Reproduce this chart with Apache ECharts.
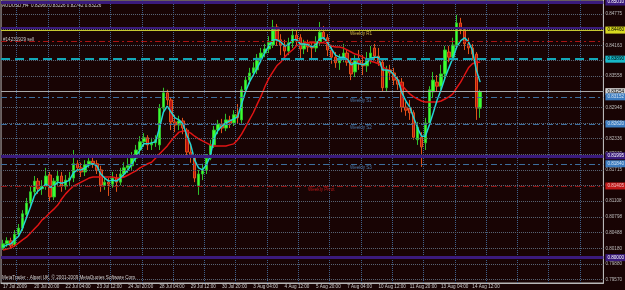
<!DOCTYPE html>
<html>
<head>
<meta charset="utf-8">
<script src="https://cdn.jsdelivr.net/npm/echarts@6/dist/echarts.min.js"></script>
<style>
    html, body { margin: 0; padding: 0; background: #180404; }
    #chart { width: 625px; height: 290px; }
</style>
</head>
<body>
<div id="chart"></div>
<script>
    // AUDUSD H4 bars
    const xLabels = ['17 Jul 2009', '20 Jul 20:00', '22 Jul 04:00', '23 Jul 12:00', '24 Jul 20:00', '28 Jul 04:00',
        '29 Jul 12:00', '30 Jul 20:00', '3 Aug 04:00', '4 Aug 12:00', '5 Aug 20:00', '7 Aug 04:00',
        '10 Aug 12:00', '11 Aug 20:00', '13 Aug 04:00', '14 Aug 12:00'];

    const opens = [
        0.8019,0.8027,0.8033,0.8025,0.8046,0.8058,0.8084,0.8107,0.8129,0.8150,
        0.8135,0.8140,0.8162,0.8119,0.8150,0.8160,0.8140,0.8152,0.8156,0.8184,
        0.8176,0.8168,0.8182,0.8189,0.8184,0.8172,0.8142,0.8148,0.8144,0.8156,
        0.8148,0.8164,0.8176,0.8180,0.8195,0.8211,0.8227,0.8235,0.8221,0.8225,
        0.8221,0.8293,0.8323,0.8309,0.8266,0.8260,0.8268,0.8250,0.8207,0.8197,
        0.8140,0.8164,0.8172,0.8195,0.8221,0.8250,0.8262,0.8254,0.8270,0.8264,
        0.8280,0.8270,0.8329,0.8348,0.8362,0.8368,0.8391,0.8401,0.8409,0.8417,
        0.8452,0.8427,0.8417,0.8405,0.8421,0.8436,0.8431,0.8409,0.8419,0.8413,
        0.8411,0.8423,0.8442,0.8431,0.8407,0.8393,0.8382,0.8391,0.8401,0.8383,
        0.8364,0.8387,0.8380,0.8376,0.8387,0.8411,0.8395,0.8383,0.8333,0.8368,
        0.8362,0.8348,0.8344,0.8295,0.8293,0.8284,0.8231,0.8236,0.8225,0.8264,
        0.8325,0.8344,0.8336,0.8360,0.8403,0.8393,0.8417,0.8460,0.8446,0.8419,
        0.8411,0.8399,0.8293];
    const closes = [
        0.8027,0.8033,0.8023,0.8046,0.8058,0.8086,0.8107,0.8129,0.8150,0.8135,
        0.8140,0.8160,0.8119,0.8150,0.8160,0.8140,0.8152,0.8156,0.8184,0.8176,
        0.8168,0.8182,0.8189,0.8184,0.8172,0.8142,0.8148,0.8144,0.8156,0.8148,
        0.8164,0.8176,0.8180,0.8195,0.8211,0.8227,0.8235,0.8221,0.8225,0.8231,
        0.8293,0.8323,0.8309,0.8266,0.8260,0.8268,0.8254,0.8207,0.8197,0.8156,
        0.8164,0.8172,0.8195,0.8221,0.8250,0.8262,0.8254,0.8270,0.8264,0.8280,
        0.8274,0.8329,0.8348,0.8362,0.8372,0.8391,0.8401,0.8409,0.8421,0.8452,
        0.8427,0.8417,0.8405,0.8421,0.8436,0.8427,0.8409,0.8419,0.8413,0.8411,
        0.8423,0.8442,0.8432,0.8407,0.8393,0.8382,0.8391,0.8401,0.8383,0.8360,
        0.8387,0.8380,0.8376,0.8387,0.8401,0.8395,0.8383,0.8333,0.8368,0.8362,
        0.8348,0.8340,0.8295,0.8289,0.8284,0.8236,0.8256,0.8217,0.8264,0.8329,
        0.8348,0.8336,0.8360,0.8407,0.8393,0.8417,0.8460,0.8450,0.8419,0.8411,
        0.8399,0.8293,0.8325];
    const lows = [
        0.8015,0.8021,0.8017,0.8021,0.8042,0.8052,0.8078,0.8101,0.8123,0.8125,
        0.8123,0.8133,0.8109,0.8113,0.8142,0.8129,0.8133,0.8140,0.8148,0.8168,
        0.8158,0.8160,0.8176,0.8176,0.8164,0.8129,0.8133,0.8121,0.8137,0.8129,
        0.8142,0.8156,0.8166,0.8172,0.8187,0.8201,0.8217,0.8211,0.8211,0.8217,
        0.8211,0.8285,0.8299,0.8250,0.8246,0.8250,0.8242,0.8195,0.8186,0.8148,
        0.8123,0.8152,0.8164,0.8191,0.8215,0.8242,0.8244,0.8248,0.8254,0.8258,
        0.8262,0.8264,0.8323,0.8340,0.8356,0.8360,0.8383,0.8393,0.8401,0.8411,
        0.8415,0.8397,0.8391,0.8397,0.8411,0.8415,0.8391,0.8399,0.8403,0.8391,
        0.8403,0.8417,0.8427,0.8395,0.8380,0.8372,0.8368,0.8383,0.8376,0.8348,
        0.8354,0.8368,0.8358,0.8364,0.8380,0.8387,0.8376,0.8325,0.8325,0.8348,
        0.8338,0.8329,0.8285,0.8278,0.8270,0.8231,0.8221,0.8178,0.8211,0.8258,
        0.8313,0.8325,0.8329,0.8352,0.8383,0.8387,0.8411,0.8438,0.8407,0.8399,
        0.8387,0.8270,0.8274];
    const highs = [
        0.8035,0.8040,0.8039,0.8054,0.8066,0.8093,0.8117,0.8140,0.8160,0.8156,
        0.8152,0.8176,0.8168,0.8156,0.8172,0.8168,0.8162,0.8168,0.8211,0.8191,
        0.8186,0.8191,0.8201,0.8197,0.8191,0.8180,0.8158,0.8156,0.8168,0.8164,
        0.8176,0.8187,0.8195,0.8207,0.8221,0.8238,0.8244,0.8240,0.8235,0.8240,
        0.8301,0.8333,0.8329,0.8313,0.8280,0.8278,0.8274,0.8254,0.8221,0.8201,
        0.8172,0.8184,0.8203,0.8231,0.8258,0.8270,0.8272,0.8282,0.8278,0.8289,
        0.8301,0.8336,0.8356,0.8372,0.8383,0.8399,0.8411,0.8419,0.8434,0.8466,
        0.8458,0.8438,0.8427,0.8431,0.8450,0.8446,0.8438,0.8427,0.8427,0.8421,
        0.8434,0.8462,0.8454,0.8438,0.8417,0.8403,0.8399,0.8419,0.8407,0.8391,
        0.8397,0.8407,0.8397,0.8403,0.8415,0.8419,0.8411,0.8391,0.8376,0.8378,
        0.8372,0.8356,0.8352,0.8305,0.8309,0.8289,0.8266,0.8246,0.8274,0.8336,
        0.8364,0.8358,0.8378,0.8415,0.8415,0.8431,0.8476,0.8470,0.8452,0.8431,
        0.8419,0.8403,0.8329];

    // moving averages as drawn (cyan fast, red slow)
    const maFast = [
        0.8021,0.8025,0.8027,0.8035,0.8042,0.8058,0.8078,0.8099,0.8121,0.8131,
        0.8137,0.8144,0.8138,0.8140,0.8148,0.8146,0.8148,0.8152,0.8166,0.8172,
        0.8172,0.8176,0.8182,0.8184,0.8180,0.8164,0.8156,0.8150,0.8152,0.8150,
        0.8156,0.8164,0.8172,0.8184,0.8197,0.8211,0.8223,0.8223,0.8225,0.8227,
        0.8254,0.8285,0.8297,0.8285,0.8274,0.8270,0.8262,0.8240,0.8221,0.8191,
        0.8176,0.8172,0.8182,0.8199,0.8235,0.8250,0.8258,0.8264,0.8268,0.8272,
        0.8276,0.8301,0.8325,0.8344,0.8358,0.8372,0.8387,0.8403,0.8415,0.8427,
        0.8427,0.8423,0.8415,0.8417,0.8427,0.8427,0.8419,0.8419,0.8417,0.8413,
        0.8417,0.8429,0.8431,0.8421,0.8409,0.8397,0.8393,0.8393,0.8389,0.8378,
        0.8382,0.8380,0.8378,0.8382,0.8391,0.8393,0.8393,0.8368,0.8368,0.8366,
        0.8358,0.8348,0.8323,0.8307,0.8295,0.8274,0.8254,0.8238,0.8238,0.8260,
        0.8284,0.8309,0.8329,0.8352,0.8372,0.8391,0.8413,0.8425,0.8431,0.8423,
        0.8407,0.8368,0.8344];
    const maSlow = [
        0.8015,0.8017,0.8019,0.8023,0.8029,0.8035,0.8040,0.8048,0.8056,0.8064,
        0.8074,0.8080,0.8088,0.8095,0.8103,0.8115,0.8125,0.8133,0.8140,0.8144,
        0.8148,0.8152,0.8156,0.8158,0.8158,0.8158,0.8158,0.8158,0.8158,0.8156,
        0.8156,0.8158,0.8162,0.8166,0.8170,0.8176,0.8180,0.8184,0.8187,0.8195,
        0.8203,0.8211,0.8219,0.8229,0.8238,0.8246,0.8248,0.8248,0.8244,0.8238,
        0.8233,0.8229,0.8225,0.8221,0.8219,0.8219,0.8219,0.8219,0.8221,0.8223,
        0.8231,0.8242,0.8256,0.8270,0.8284,0.8301,0.8317,0.8336,0.8352,0.8364,
        0.8376,0.8383,0.8393,0.8401,0.8407,0.8415,0.8419,0.8421,0.8421,0.8421,
        0.8421,0.8421,0.8421,0.8419,0.8415,0.8413,0.8413,0.8411,0.8407,0.8403,
        0.8399,0.8397,0.8393,0.8389,0.8385,0.8383,0.8380,0.8374,0.8370,0.8366,
        0.8358,0.8348,0.8338,0.8329,0.8321,0.8315,0.8311,0.8307,0.8305,0.8305,
        0.8305,0.8305,0.8307,0.8311,0.8315,0.8321,0.8333,0.8344,0.8358,0.8372,
        0.8380,0.8383,0.8383];

    // price axis labels
    const yTicks = [0.84775, 0.84469, 0.84163, 0.83863, 0.83558, 0.83254, 0.82948, 0.82642, 0.82336,
        0.82030, 0.81715, 0.81410, 0.81108, 0.80798, 0.80488, 0.80180, 0.79880, 0.79570];

    // horizontal levels (pivots, order, bid)
    const levelValues = [0.85010, 0.84500, 0.84460, 0.84250, 0.83890, 0.83254, 0.83152, 0.82620, 0.81995, 0.81840, 0.81405, 0.80000];
    const levelNames = ['', '', 'Weekly R1', '#14231929 sell', '', '', 'Weekly S1', 'Weekly S2', '', 'Weekly S3', 'Weekly Pivot', ''];

    const PURPLE = '#3a1a7c', BLUE = '#3d6f9e', RED = '#a81414';
    const levelStyle = [
        {color: PURPLE, width: 3, type: 'solid', box: PURPLE, boxText: '#ffffff', tx: 0},
        {color: PURPLE, width: 2, type: 'solid', box: null, tx: 0},
        {color: '#c8c832', width: 1, type: 'solid', box: '#d8d820', boxText: '#000000', tx: 350, text: '#c8b448'},
        {color: RED, width: 1, type: [6, 3, 2, 3], box: null, tx: 3, text: '#c8c8c8', above: true},
        {color: '#12a8b8', width: 2, type: [9, 5], box: '#18b8c8', boxText: '#000000', tx: 0},
        {color: '#a8a8a8', width: 1, type: 'solid', box: '#d0d0d0', boxText: '#000000', tx: 0},
        {color: BLUE, width: 1, type: [6, 3, 2, 3], box: '#3c7cc0', boxText: '#d0e0f0', tx: 350, text: '#4a78a8'},
        {color: BLUE, width: 1, type: [6, 3, 2, 3], box: '#3c7cc0', boxText: '#d0e0f0', tx: 350, text: '#4a78a8'},
        {color: PURPLE, width: 3, type: 'solid', box: PURPLE, boxText: '#ffffff', tx: 0},
        {color: BLUE, width: 1, type: [6, 3, 2, 3], box: '#3c7cc0', boxText: '#d0e0f0', tx: 350, text: '#4a78a8'},
        {color: '#8c1212', width: 1, type: [6, 3, 2, 3], box: '#c01818', boxText: '#f0c0c0', tx: 308, text: '#b01818'},
        {color: PURPLE, width: 3, type: 'solid', box: PURPLE, boxText: '#ffffff', tx: 0}
    ];

    const nBars = 154;
    const cats = [];
    for (let i = 0; i < nBars; i++) cats.push(String(i));

    const ohlc = opens.map((o, i) => [o, closes[i], lows[i], highs[i]]);

    const FONT = 'Liberation Sans';
    const FS = 4.6;
    const chart = echarts.init(document.getElementById('chart'), null, {renderer: 'canvas'});

    chart.setOption({
        animation: false,
        backgroundColor: '#180404',
        grid: {left: 0, right: 19, top: 0, bottom: 7, show: true, borderColor: '#b8b8b8', borderWidth: 1},
        xAxis: {
            type: 'category',
            data: cats,
            boundaryGap: true,
            axisLine: {show: true, lineStyle: {color: '#b8b8b8'}},
            axisTick: {show: false},
            axisLabel: {
                interval: (i) => i % 8 === 0,
                formatter: (v, i) => xLabels[i / 8] || '',
                align: 'left',
                fontSize: FS,
                fontFamily: FONT,
                color: '#cfcfcf',
                margin: 1
            },
            splitLine: {
                show: true,
                interval: (i) => i % 8 === 4,
                lineStyle: {color: '#40618a', type: 'dotted', width: 1}
            }
        },
        yAxis: {
            type: 'value',
            position: 'right',
            scale: true,
            min: 0.79503,
            max: 0.8505,
            axisLine: {show: true, lineStyle: {color: '#b8b8b8'}},
            axisTick: {show: false},
            axisLabel: {
                customValues: yTicks,
                formatter: (v) => v.toFixed(5),
                fontSize: FS,
                fontFamily: FONT,
                color: '#bdbdbd',
                margin: 2
            },
            splitLine: {show: false}
        },
        series: [
            {
                // horizontal grid at the price labels
                type: 'line',
                data: [],
                z: 1,
                markLine: {
                    symbol: 'none',
                    silent: true,
                    precision: 5,
                    label: {show: false},
                    lineStyle: {color: '#5a6676', type: 'dotted', width: 1},
                    data: yTicks.map((v) => ({yAxis: v}))
                }
            },
            {
                type: 'candlestick',
                data: ohlc,
                barWidth: 3,
                itemStyle: {
                    color: '#3cff30',
                    color0: '#b81010',
                    borderColor: '#2fc02a',
                    borderColor0: '#e05018',
                    borderWidth: 1
                },
                markLine: {
                    symbol: 'none',
                    silent: true,
                    precision: 5,
                    data: levelValues.map((v, i) => {
                        const s = levelStyle[i];
                        return {
                            yAxis: v,
                            lineStyle: {color: s.color, width: s.width, type: s.type},
                            label: s.box ? {
                                show: true,
                                position: 'end',
                                distance: 2,
                                formatter: v.toFixed(5),
                                fontSize: FS,
                                fontFamily: FONT,
                                color: s.boxText,
                                backgroundColor: s.box,
                                padding: [1, 2]
                            } : {show: false}
                        };
                    })
                }
            },
            {
                type: 'line',
                data: maSlow,
                symbol: 'none',
                lineStyle: {color: '#e01414', width: 1.5},
                z: 3
            },
            {
                type: 'line',
                data: maFast,
                symbol: 'none',
                lineStyle: {color: '#22d4d4', width: 1.5},
                z: 4
            }
        ]
    });

    // level captions and the header texts
    const graphics = [
        {type: 'text', left: 2, top: 3, style: {text: 'AUDUSD,H4  0.82960 0.83226 0.82742 0.83226', fill: '#d0d0d0', fontSize: FS, fontFamily: FONT}},
        {type: 'text', left: 2, top: 275, style: {text: 'MetaTrader - Alpari UK, \u00a9 2001-2009 MetaQuotes Software Corp.', fill: '#d0d0d0', fontSize: FS, fontFamily: FONT}}
    ];
    levelValues.forEach((v, i) => {
        if (!levelNames[i]) return;
        const s = levelStyle[i];
        const y = chart.convertToPixel({yAxisIndex: 0}, v);
        graphics.push({
            type: 'text',
            left: s.tx,
            top: s.above ? y - 4 : y + 1,
            style: {text: levelNames[i], fill: s.text, fontSize: FS, fontFamily: FONT}
        });
    });
    chart.setOption({graphic: graphics});
</script>
</body>
</html>
